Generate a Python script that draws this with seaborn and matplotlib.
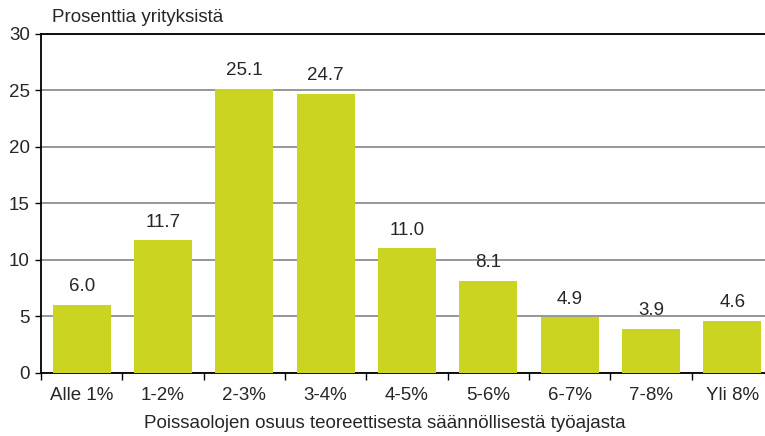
import numpy as np
import pandas as pd
import matplotlib
matplotlib.use('Agg')
import matplotlib.pyplot as plt
import seaborn as sns

# data
categories = ['Alle 1%', '1-2%', '2-3%', '3-4%', '4-5%', '5-6%', '6-7%', '7-8%', 'Yli 8%']
values = [6.0, 11.7, 25.1, 24.7, 11.0, 8.1, 4.9, 3.9, 4.6]
y_ticks = [0, 5, 10, 15, 20, 25, 30]
y_title = 'Prosenttia yrityksistä'
x_title = 'Poissaolojen osuus teoreettisesta säännöllisestä työajasta'

sns.set_style('white')
plt.rcParams['font.family'] = ['Liberation Sans', 'DejaVu Sans']
fs = 13.5

df = pd.DataFrame({'luokka': categories, 'osuus': values})

fig = plt.figure(figsize=(7.65, 4.36), dpi=100)
# axes runs a little past the right edge, like in the original
ax = fig.add_axes([41 / 765, 1 - 372.7 / 436, (773 - 41) / 765, (372.7 - 33.7) / 436])

sns.barplot(data=df, x='luokka', y='osuus', color='#CCD422', saturation=1,
            width=0.71, linewidth=0, edgecolor='none', ax=ax, zorder=3)

ax.set_ylim(0, 30)
ax.set_xlim(-0.5, len(categories) - 0.5)
ax.set_yticks(y_ticks)
ax.set_yticklabels([str(t) for t in y_ticks], fontsize=fs)
ax.yaxis.grid(True, color='#858585', linewidth=1.2, zorder=0)
ax.set_axisbelow(True)

# tick marks between categories, labels under bar centres
ax.set_xticks(np.arange(-0.5, len(categories)), labels=[''] * (len(categories) + 1))
ax.set_xticks(np.arange(len(categories)), labels=categories, minor=True)
ax.tick_params(axis='x', which='major', direction='out', length=5, width=1, color='black', bottom=True)
ax.tick_params(axis='x', which='minor', length=0, labelsize=fs, pad=10)
ax.tick_params(axis='y', direction='out', length=4, width=1, color='black', left=True, labelsize=fs, pad=4)
ax.set_xlabel('')
ax.set_ylabel('')

for s in ['left', 'bottom', 'top']:
    ax.spines[s].set_visible(True)
    ax.spines[s].set_color('black')
    ax.spines[s].set_linewidth(1.3)
ax.spines['right'].set_visible(False)

for i, v in enumerate(values):
    ax.annotate(f'{v:.1f}', (i, v), xytext=(0, 7), textcoords='offset points',
                ha='center', va='bottom', fontsize=fs, zorder=4)

fig.text(52 / 765, 1 - 17 / 436, y_title, ha='left', va='center', fontsize=fs)
fig.text(385 / 765, 1 - 423 / 436, x_title, ha='center', va='center', fontsize=fs)

fig.savefig('out.png', dpi=100)
